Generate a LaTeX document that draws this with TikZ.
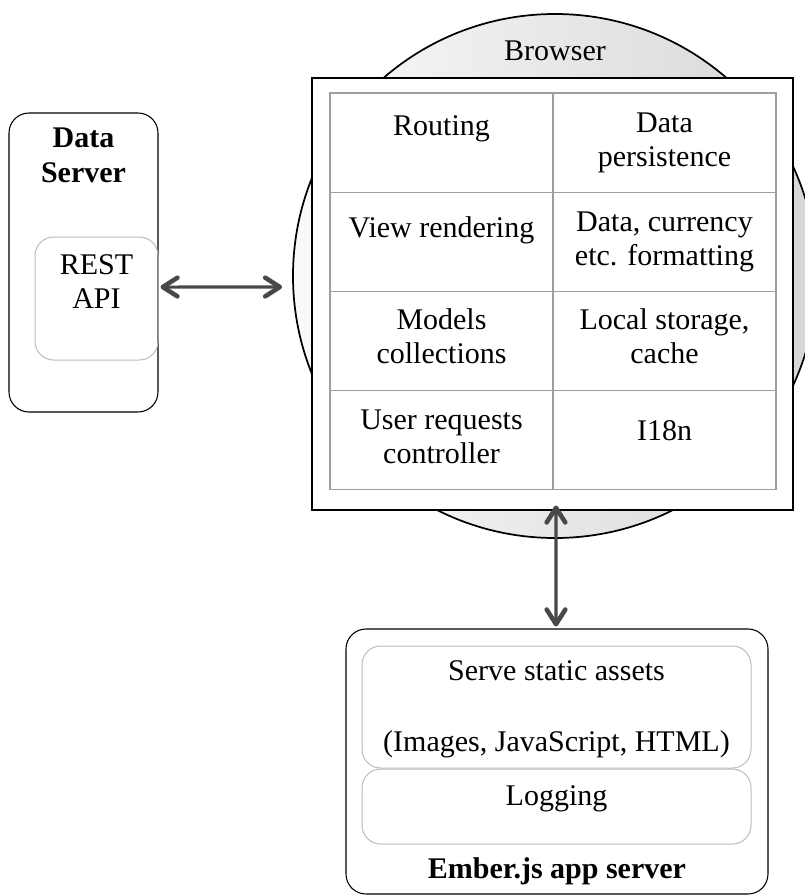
\documentclass[tikz,border=0pt]{standalone}
\usepackage{fontspec}
\setmainfont{Liberation Serif}
\usetikzlibrary{
    arrows.meta,
    positioning,
    shapes.geometric
}
\definecolor{ink}{RGB}{0,0,0}
\definecolor{linkgray}{RGB}{72,72,72}
\definecolor{cellline}{RGB}{158,158,158}
\definecolor{softline}{RGB}{188,188,188}
\definecolor{ballleft}{RGB}{250,250,250}
\definecolor{ballright}{RGB}{214,214,214}
\tikzset{
    line join=round,
    server/.style={
        rectangle,
        draw=ink,
        line width=0.8pt,
        rounded corners=15pt,
        fill=white
    },
    part/.style={
        rectangle,
        draw=softline,
        line width=0.75pt,
        rounded corners=14pt
    },
    ball/.style={
        circle,
        draw=ink,
        line width=1.3pt,
        left color=ballleft,
        right color=ballright,
        minimum size=393pt,
        inner sep=0pt
    },
    frame/.style={
        rectangle,
        draw=ink,
        line width=0.8pt,
        fill=white
    },
    cell/.style={
        rectangle,
        draw=cellline,
        line width=0.8pt,
        minimum width=167.25pt,
        minimum height=74.4pt,
        inner sep=0pt,
        outer sep=0pt
    },
    celltext/.style={
        align=center,
        inner sep=0pt
    },
    title/.style={
        font=\fontsize{22.5}{26.25}\selectfont\bfseries,
        align=center,
        inner sep=0pt
    },
    link/.style={
        {Straight Barb[length=11pt, width=14pt, line width=3.4pt, round]}-{Straight Barb[length=11pt, width=14pt, line width=3.4pt, round]},
        draw=linkgray,
        line width=2.3pt
    }
}

\begin{document}
\begin{tikzpicture}[
    x=0.75pt, y=0.75pt,
    every node/.style={font=\fontsize{22.5}{25.5}\selectfont}
]
\useasboundingbox (0,0) rectangle (804,-896);

% Browser
\node[ball] (ball) at (555,-276) {};
\node[anchor=base, inner sep=0pt] (balltitle) at (555,-60) {Browser};
\node[frame, minimum width=360.75pt, minimum height=324pt] (frame) at (552.5,-294) {};

% Grid of browser tasks
\node[cell] (c11) at (441.5,-142.6) {};
\node[cell, right=0pt of c11] (c12) {};
\node[cell, below=0pt of c11] (c21) {};
\node[cell, right=0pt of c21] (c22) {};
\node[cell, below=0pt of c21] (c31) {};
\node[cell, right=0pt of c31] (c32) {};
\node[cell, below=0pt of c31] (c41) {};
\node[cell, right=0pt of c41] (c42) {};

\node[celltext, below=17pt of c11.north] (t11) {Routing};
\node[celltext, below=14.5pt of c12.north] (t12) {Data\\persistence};
\node[celltext, below=18pt of c21.north] (t21) {View rendering};
\node[celltext, below=14.5pt of c22.north] (t22) {Data, currency\\etc. formatting};
\node[celltext, below=12.5pt of c31.north] (t31) {Models\\collections};
\node[celltext, below=12.5pt of c32.north] (t32) {Local storage,\\cache};
\node[celltext, below=14pt of c41.north] (t41) {User requests\\controller};
\node[celltext, below=22pt of c42.north] (t42) {I18n};

% Data server
\node[server, minimum width=111.75pt, minimum height=224.25pt] (dataserver) at (83.5,-262.5) {};
\node[title, below=11pt of dataserver.north] (dstitle) {Data\\Server};
\node[part, minimum width=92.25pt, minimum height=92.25pt] (rest) at (96.5,-298.5) {};
\node[celltext, below=13.5pt of rest.north] (resttext) {REST\\API};

% Ember.js app server
\node[server, minimum width=316.5pt, minimum height=198.75pt] (ember) at (557,-761.5) {};
\node[part, minimum width=291.75pt, minimum height=91.5pt] (assets) at (556.5,-707) {};
\node[part, minimum width=291.75pt, minimum height=56.25pt, below=0pt of assets] (logging) {};
\node[celltext, below=11pt of assets.north] (assetstext) {Serve static assets\\[27.75pt](Images, JavaScript, HTML)};
\node[celltext, below=12.5pt of logging.north] (loggingtext) {Logging};
\node[title, anchor=base] (embertitle) at (557,-878) {Ember.js app server};

% Connections
\draw[link] ([xshift=1.5pt, yshift=8.6pt]rest.east) -- ([xshift=-7.5pt, yshift=-8.25pt]ball.west);
\draw[link] ([xshift=2.6pt, yshift=3.75pt]frame.south) -- ([xshift=-0.75pt, yshift=1.5pt]ember.north);

\end{tikzpicture}
\end{document}
